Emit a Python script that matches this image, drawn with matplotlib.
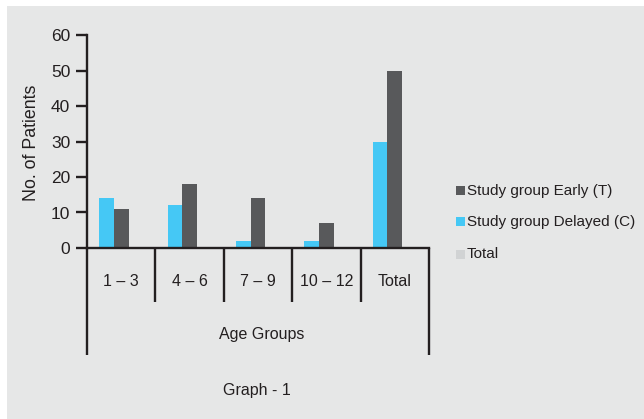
import matplotlib
matplotlib.use("Agg")
import matplotlib.pyplot as plt
from matplotlib.patches import Rectangle
import numpy as np

categories = ["1 – 3", "4 – 6", "7 – 9", "10 – 12", "Total"]
early = [11, 18, 14, 7, 50]
delayed = [14, 12, 2, 2, 30]
total = [0, 0, 0, 0, 0]
series_names = ["Study group Early (T)", "Study group Delayed (C)", "Total"]

C_EARLY = "#58595b"
C_DELAYED = "#45c8f5"
C_TOTAL = "#d1d3d4"
BG = "#e6e7e7"
INK = "#231f20"
TXT = "#231f20"

plt.rcParams["font.family"] = ["Liberation Sans", "DejaVu Sans"]

W, H = 644, 419
fig = plt.figure(figsize=(W / 100, H / 100), dpi=100, facecolor="white")
fig.patches.append(Rectangle((7 / W, 0), 1 - 7 / W, 1 - 6 / H, transform=fig.transFigure,
                             facecolor=BG, edgecolor="none", zorder=-5))

x0, x1, ytop, ybase = 87, 429, 35, 248
ax = fig.add_axes([x0 / W, (H - ybase) / H, (x1 - x0) / W, (ybase - ytop) / H], zorder=2)
ax.set_facecolor("none")

x = np.arange(len(categories)) + 0.5
w = 0.215
ax.bar(x - w, delayed, w, color=C_DELAYED, zorder=2)
ax.bar(x, early, w, color=C_EARLY, zorder=2)
ax.bar(x + w, total, w, color=C_TOTAL, zorder=2)

ax.set_xlim(0, len(categories))
ax.set_ylim(0, 60)
ax.set_yticks(np.arange(0, 61, 10))
ax.tick_params(axis="y", direction="out", length=8, width=1.7, color=INK,
               labelsize=12.5, labelcolor=TXT, pad=4)
ax.set_xticks([])
for s in ["top", "right"]:
    ax.spines[s].set_visible(False)
for s in ["left", "bottom"]:
    ax.spines[s].set_linewidth(1.7)
    ax.spines[s].set_color(INK)
    ax.spines[s].set_zorder(3)

# table-style category frame below the axis
tr = ax.get_xaxis_transform()
sep_bottom = -(302 - ybase) / (ybase - ytop)
outer_bottom = -(355 - ybase) / (ybase - ytop)
for b in range(1, len(categories)):
    ax.plot([b, b], [0, sep_bottom], transform=tr, color=INK, lw=1.7, clip_on=False,
            solid_capstyle="butt")
for b in [0, len(categories)]:
    ax.plot([b, b], [0, outer_bottom], transform=tr, color=INK, lw=1.7, clip_on=False,
            solid_capstyle="butt")

lab_y = -(282 - ybase) / (ybase - ytop)
for xi, c in zip(x, categories):
    ax.text(xi, lab_y, c, transform=tr, ha="center", va="center", fontsize=11.5, color=TXT)

fig.text(262 / W, 1 - 334 / H, "Age Groups", ha="center", va="center", fontsize=11.5, color=TXT)
fig.text(257 / W, 1 - 391 / H, "Graph - 1", ha="center", va="center", fontsize=11.5, color=TXT)
fig.text(31 / W, 1 - 143 / H, "No. of Patients", ha="center", va="center", rotation=90,
         fontsize=12.8, color=TXT)

# legend
leg_rows = [191, 222, 254]
leg_cols = [C_EARLY, C_DELAYED, C_TOTAL]
for yy, col, name in zip(leg_rows, leg_cols, series_names):
    fig.patches.append(Rectangle((456 / W, 1 - (yy + 4.5) / H), 9 / W, 9 / H,
                                 transform=fig.transFigure, facecolor=col, edgecolor="none"))
    fig.text(467 / W, 1 - yy / H, name, ha="left", va="center", fontsize=11, color=TXT)

fig.savefig("out.png", dpi=100, facecolor="white")
